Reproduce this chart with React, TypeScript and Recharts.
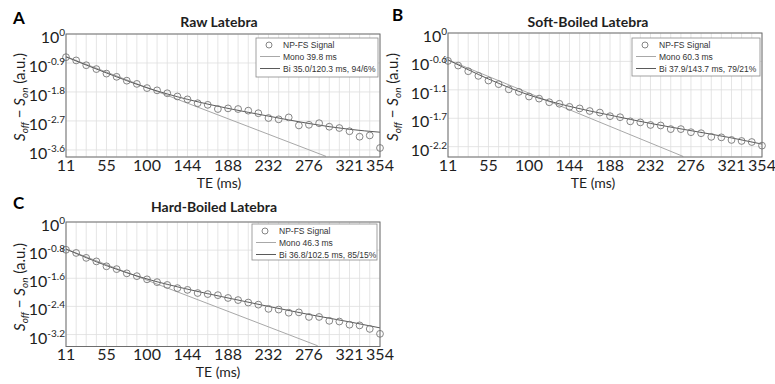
import React from "react";
import { ComposedChart, Scatter, Line, XAxis, YAxis, CartesianGrid } from "recharts";

// ---------- data ----------
const echoTimes = [
  11.0, 22.1, 33.1, 44.2, 55.2, 66.3, 77.4, 88.4, 99.5, 110.5, 121.6, 132.7, 143.7, 154.8, 165.8, 176.9,
  188.0, 199.0, 210.1, 221.1, 232.2, 243.3, 254.3, 265.4, 276.4, 287.5, 298.6, 309.6, 320.7, 331.7, 342.8, 354.0,
];
const xTickValues = [11.0, 55.2, 99.5, 143.7, 188.0, 232.2, 276.4, 320.7, 354.0];
const xTickLabels = ["11", "55", "100", "144", "188", "232", "276", "321", "354"];

// log10 of S_off - S_on
const rawSignal = [
  -0.72, -0.82, -0.97, -1.09, -1.23, -1.33, -1.45, -1.55, -1.68, -1.75, -1.84, -1.94, -2.03, -2.15, -2.2, -2.33,
  -2.31, -2.33, -2.38, -2.46, -2.61, -2.65, -2.59, -2.84, -2.82, -2.77, -2.88, -2.92, -3.02, -3.19, -3.15, -3.54,
];
const softSignal = [
  -0.54, -0.63, -0.74, -0.83, -0.92, -0.99, -1.09, -1.14, -1.23, -1.27, -1.34, -1.37, -1.43, -1.46, -1.51, -1.54,
  -1.61, -1.63, -1.71, -1.73, -1.78, -1.79, -1.86, -1.86, -1.92, -1.94, -2.01, -2.02, -2.07, -2.09, -2.11, -2.18,
];
const hardSignal = [
  -0.79, -0.88, -1.02, -1.12, -1.26, -1.34, -1.46, -1.54, -1.63, -1.71, -1.79, -1.88, -1.93, -2.02, -2.05, -2.08,
  -2.16, -2.22, -2.29, -2.35, -2.47, -2.49, -2.58, -2.57, -2.7, -2.7, -2.81, -2.83, -2.92, -2.94, -3.04, -3.18,
];

// bi-exponential fits, read at the labelled echo times
const rawBi = [-0.71, -1.21, -1.67, -2.03, -2.31, -2.55, -2.78, -2.96, -3.05];
const softBi = [-0.52, -0.89, -1.2, -1.42, -1.59, -1.75, -1.89, -2.03, -2.15];
const hardBi = [-0.77, -1.24, -1.62, -1.91, -2.16, -2.4, -2.63, -2.84, -3.01];

// mono-exponential fits (straight on a log axis): start and exit of the plot
const rawMonoTE = [11, 295];
const rawMono = [-0.7, -3.8];
const softMonoTE = [11, 268];
const softMono = [-0.52, -2.39];
const hardMonoTE = [11, 286];
const hardMono = [-0.77, -3.52];

const rawYTicks = [0, -0.9, -1.8, -2.7, -3.6];
const rawYLabels = ["0", "-0.9", "-1.8", "-2.7", "-3.6"];
const softYTicks = [0, -0.55, -1.1, -1.65, -2.2];
const softYLabels = ["0", "-0.6", "-1.1", "-1.7", "-2.2"];
const hardYTicks = [0, -0.8, -1.6, -2.4, -3.2];
const hardYLabels = ["0", "-0.8", "-1.6", "-2.4", "-3.2"];

const legendSignal = "NP-FS Signal";
const rawLegend = ["Mono 39.8 ms", "Bi 35.0/120.3 ms, 94/6%"];
const softLegend = ["Mono 60.3 ms", "Bi 37.9/143.7 ms, 79/21%"];
const hardLegend = ["Mono 46.3 ms", "Bi 36.8/102.5 ms, 85/15%"];

// ---------- styling ----------
const FONT = "Lato, 'Open Sans', sans-serif";
const LFONT = "'Liberation Sans', Arial, sans-serif";
const TEXT = "#1e1e1e";
const GRID = "#dedede";
const BOX = "#6e6e6e";
const MARK = "#777777";
const MONO_C = "#a8a8a8";
const BI_C = "#5a5a5a";

type Panel = {
  key: string;
  left: number;
  top: number;
  cw: number;
  pl: number;
  pt: number;
  pr: number;
  pb: number;
  yMin: number;
  yTicks: number[];
  yLabels: string[];
  signal: number[];
  bi: number[];
  monoTE: number[];
  mono: number[];
};

const CH = 190;

const panels: Panel[] = [
  { key: "A", left: 0, top: 0, cw: 400, pl: 66, pt: 34, pr: 380, pb: 157, yMin: -3.82, yTicks: rawYTicks, yLabels: rawYLabels, signal: rawSignal, bi: rawBi, monoTE: rawMonoTE, mono: rawMono },
  { key: "B", left: 385, top: 0, cw: 390, pl: 63, pt: 33, pr: 377, pb: 157, yMin: -2.4, yTicks: softYTicks, yLabels: softYLabels, signal: softSignal, bi: softBi, monoTE: softMonoTE, mono: softMono },
  { key: "C", left: 0, top: 190, cw: 400, pl: 66, pt: 32, pr: 380, pb: 156.5, yMin: -3.54, yTicks: hardYTicks, yLabels: hardYLabels, signal: hardSignal, bi: hardBi, monoTE: hardMonoTE, mono: hardMono },
];

const Circle = (props: any) => {
  const { cx, cy } = props;
  if (cx == null || cy == null) return null;
  return <circle cx={cx} cy={cy} r={3.4} fill="none" stroke={MARK} strokeWidth={0.9} />;
};

function PanelChart({ p }: { p: Panel }) {
  const pts = echoTimes.map((te, i) => ({ te, v: p.signal[i] }));
  const biData = xTickValues.map((te, i) => ({ te, v: p.bi[i] }));
  const monoData = p.monoTE.map((te, i) => ({ te, v: p.mono[i] }));
  const xTick = (props: any) => {
    const i = xTickValues.indexOf(props.payload.value);
    if (i < 0) return <g />;
    return (
      <text x={props.x} y={props.y + 13.5} textAnchor="middle" fontFamily={FONT} fontSize={16} fill={TEXT}>
        {xTickLabels[i]}
      </text>
    );
  };
  const yTick = (props: any) => {
    const i = p.yTicks.indexOf(props.payload.value);
    return (
      <text x={props.x - 1} y={props.y + 9} textAnchor="end" fontFamily={FONT} fontSize={16} fill={TEXT}>
        <tspan>10</tspan>
        <tspan fontSize={10} dy={-7}>
          {p.yLabels[i]}
        </tspan>
      </text>
    );
  };
  return (
    <div style={{ position: "absolute", left: p.left, top: p.top, width: p.cw, height: CH }}>
      <ComposedChart width={p.cw} height={CH} margin={{ top: p.pt, right: p.cw - p.pr, bottom: 0, left: 0 }}>
        <CartesianGrid stroke={GRID} strokeWidth={0.8} />
        <XAxis
          type="number"
          dataKey="te"
          domain={[11, 354]}
          ticks={echoTimes}
          interval={0}
          height={CH - p.pb}
          tickSize={0}
          tickMargin={0}
          axisLine={false}
          tickLine={false}
          tick={xTick}
        />
        <YAxis
          type="number"
          dataKey="v"
          domain={[p.yMin, 0]}
          ticks={p.yTicks}
          interval={0}
          width={p.pl}
          tickSize={0}
          tickMargin={0}
          axisLine={false}
          tickLine={false}
          tick={yTick}
        />
        <Line data={monoData} dataKey="v" type="linear" stroke={MONO_C} strokeWidth={1} dot={false} isAnimationActive={false} />
        <Line data={biData} dataKey="v" type="monotone" stroke={BI_C} strokeWidth={1} dot={false} isAnimationActive={false} />
        <Scatter data={pts} dataKey="v" shape={Circle} isAnimationActive={false} />
      </ComposedChart>
    </div>
  );
}

type Deco = {
  letter: string;
  lx: number;
  ly: number;
  title: string;
  tx: number;
  ty: number;
  xlx: number;
  xly: number;
  ylx: number;
  yly: number;
  box: [number, number, number, number];
  leg: [number, number, number, number];
  legText: string[];
};

const decos: Deco[] = [
  { letter: "A", lx: 13, ly: 24, title: "Raw Latebra", tx: 219, ty: 26.5, xlx: 219, xly: 187.5, ylx: 25, yly: 97, box: [66, 34, 314, 123], leg: [256, 38, 122, 39], legText: rawLegend },
  { letter: "B", lx: 392, ly: 21, title: "Soft-Boiled Latebra", tx: 588, ty: 26.5, xlx: 593, xly: 187.5, ylx: 398, yly: 97, box: [448, 33, 314, 124], leg: [632, 38, 128, 38], legText: softLegend },
  { letter: "C", lx: 13, ly: 209, title: "Hard-Boiled Latebra", tx: 214, ty: 211.5, xlx: 218, xly: 377, ylx: 25, yly: 287, box: [66, 222, 314, 124.5], leg: [252, 224, 125, 36], legText: hardLegend },
];

function Overlay() {
  return (
    <svg width={775} height={384} style={{ position: "absolute", left: 0, top: 0, pointerEvents: "none" }}>
      {decos.map((d) => {
        const [bx, by, bw, bh] = d.box;
        const [gx, gy, gw, gh] = d.leg;
        const rows = [gy + 7, gy + 18.5, gy + 30.5];
        return (
          <g key={d.letter}>
            <rect x={bx} y={by} width={bw} height={bh} fill="none" stroke={BOX} strokeWidth={1} />
            <text x={d.lx} y={d.ly} fontFamily={FONT} fontWeight={700} fontSize={17} fill="#000">
              {d.letter}
            </text>
            <text x={d.tx} y={d.ty} textAnchor="middle" fontFamily={FONT} fontWeight={700} fontSize={14} fill={TEXT}>
              {d.title}
            </text>
            <text x={d.xlx} y={d.xly} textAnchor="middle" fontFamily={FONT} fontSize={14} fill={TEXT}>
              TE (ms)
            </text>
            <text transform={`translate(${d.ylx},${d.yly}) rotate(-90)`} textAnchor="middle" fontFamily={FONT} fontSize={15} fill={TEXT}>
              <tspan fontStyle="italic">S</tspan>
              <tspan fontStyle="italic" fontSize={10} dy={3}>off</tspan>
              <tspan dy={-3}> − </tspan>
              <tspan fontStyle="italic">S</tspan>
              <tspan fontStyle="italic" fontSize={10} dy={3}>on</tspan>
              <tspan dy={-3}> (a.u.)</tspan>
            </text>
            <rect x={gx} y={gy} width={gw} height={gh} fill="#fff" stroke="#8a8a8a" strokeWidth={0.8} />
            <circle cx={gx + 13} cy={rows[0]} r={3} fill="none" stroke={MARK} strokeWidth={0.9} />
            <line x1={gx + 4} x2={gx + 24} y1={rows[1]} y2={rows[1]} stroke={MONO_C} strokeWidth={1} />
            <line x1={gx + 4} x2={gx + 24} y1={rows[2]} y2={rows[2]} stroke={BI_C} strokeWidth={1} />
            <text x={gx + 27} y={rows[0] + 3} fontFamily={LFONT} fontSize={8.5} fill="#333">
              {legendSignal}
            </text>
            <text x={gx + 27} y={rows[1] + 3} fontFamily={LFONT} fontSize={8.5} fill="#333">
              {d.legText[0]}
            </text>
            <text x={gx + 27} y={rows[2] + 3} fontFamily={LFONT} fontSize={8.5} fill="#333">
              {d.legText[1]}
            </text>
          </g>
        );
      })}
    </svg>
  );
}

export default function App() {
  return (
    <div style={{ position: "absolute", left: 0, top: 0, width: 775, height: 384, background: "#fff", overflow: "hidden" }}>
      {panels.map((p) => (
        <PanelChart key={p.key} p={p} />
      ))}
      <Overlay />
    </div>
  );
}
